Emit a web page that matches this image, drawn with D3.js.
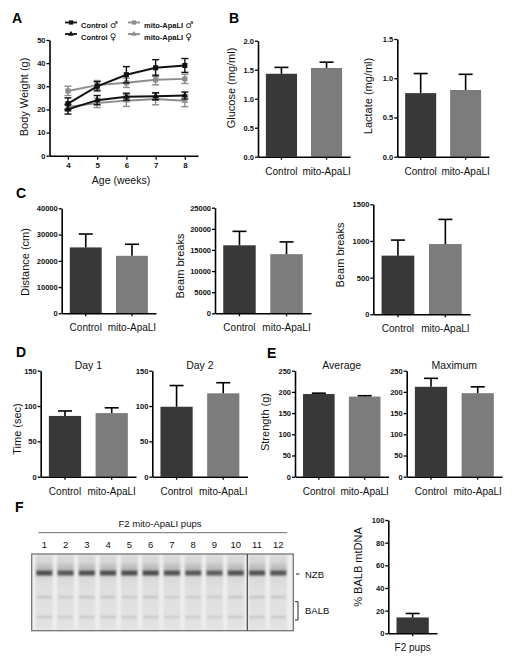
<!DOCTYPE html>
<html><head><meta charset="utf-8">
<script src="https://cdn.jsdelivr.net/npm/d3@7"></script>
<style>body{margin:0;background:#fff}svg{display:block}text{font-family:"Liberation Sans",Arial,sans-serif}</style>
</head><body><svg id="c" width="515" height="662"></svg>
<script>
// ---------- DATA ----------
const weeks = [4, 5, 6, 7, 8];
const weightTicks = [0, 10, 20, 30, 40, 50];
const ctrlMale = [22.5, 30, 35, 38, 39];
const ctrlMaleErr = [2.5, 2, 3.5, 3.5, 3];
const mitoMale = [28, 30.5, 31.5, 32.8, 33.2];
const mitoMaleErr = [2, 2, 2, 2.2, 2];
const ctrlFemale = [20, 24, 25.5, 25.7, 26];
const ctrlFemaleErr = [2, 2, 1.5, 1.5, 1.5];
const mitoFemale = [21, 22.8, 23.8, 24.5, 23.7];
const mitoFemaleErr = [1.5, 2, 2.5, 2.5, 2.5];
const legendLabels = ["Control", "mito-ApaLI", "Control", "mito-ApaLI"];
const legendSymbols = ["♂", "♂", "♀", "♀"];

const groups = ["Control", "mito-ApaLI"];
const glucose = [1.43, 1.53], glucoseErr = [0.11, 0.10];
const glucoseTicks = [0, 0.5, 1.0, 1.5, 2.0];
const lactate = [0.81, 0.85], lactateErr = [0.25, 0.20];
const lactateTicks = [0, 0.5, 1.0, 1.5];
const distance = [25100, 21900], distanceErr = [5100, 4400];
const distanceTicks = [0, 10000, 20000, 30000, 40000];
const beamA = [16100, 14000], beamAErr = [3300, 2900];
const beamATicks = [0, 5000, 10000, 15000, 20000, 25000];
const beamB = [800, 958], beamBErr = [212, 336];
const beamBTicks = [0, 500, 1000, 1500];
const day1 = [86, 90], day1Err = [7, 7.5];
const day2 = [99, 118], day2Err = [30, 15];
const timeTicks = [0, 50, 100, 150];
const avgStrength = [195, 189], avgStrengthErr = [2, 2];
const maxStrength = [212, 197], maxStrengthErr = [20, 15];
const strengthTicks = [0, 50, 100, 150, 200, 250];
const pupGroup = ["F2 pups"];
const balb = [14], balbErr = [3.5];
const balbTicks = [0, 20, 40, 60, 80, 100];
const lanes = ["1","2","3","4","5","6","7","8","9","10","11","12"];
const nzbIntensity = [0.8, 0.75, 0.8, 0.8, 0.8, 0.82, 0.78, 0.75, 0.72, 0.78, 0.78, 0.76];
const balbIntensity = [0.35, 0.3, 0.35, 0.35, 0.32, 0.35, 0.28, 0.3, 0.25, 0.35, 0.35, 0.33];

// ---------- DRAWING ----------
const svg = d3.select("#c");
const DARK = "#383838", GRAY = "#7c7c7c", LBLACK = "#111", LGRAY = "#8c8c8c";

function styleAxis(g, tickFont, tickBold) {
  g.select(".domain").attr("stroke", "#000").attr("stroke-width", 1.6);
  g.selectAll(".tick line").attr("stroke", "#000").attr("stroke-width", 1.3);
  g.selectAll(".tick text").attr("fill", "#111")
    .style("font-family", '"Liberation Sans", Arial, sans-serif')
    .style("font-size", tickFont + "px").style("font-weight", tickBold ? "bold" : "normal");
}

function letter(t, x, y) {
  svg.append("text").attr("x", x).attr("y", y).text(t)
    .style("font-size", "14px").style("font-weight", "bold").attr("fill", "#000");
}
function yLabel(t, x, y) {
  svg.append("text").attr("transform", `translate(${x},${y}) rotate(-90)`)
    .attr("text-anchor", "middle").attr("dy", "0.35em").text(t)
    .style("font-size", "11px").attr("fill", "#111");
}
function title(t, x, y) {
  svg.append("text").attr("x", x).attr("y", y).attr("text-anchor", "middle")
    .attr("dy", "0.35em").text(t).style("font-size", "10.5px").attr("fill", "#111");
}

function barChart(o) {
  const g = svg.append("g");
  const y = d3.scaleLinear().domain([0, o.max]).range([o.y0, o.yTop]);
  const x = d3.scaleBand().domain(o.cats).range([o.axisX, o.axisEnd])
    .paddingInner(0.31).paddingOuter(0.175);
  const colors = o.colors || [DARK, GRAY];
  const data = o.cats.map((c, i) => ({ c, v: o.values[i], e: o.errs[i], col: colors[i] }));
  g.selectAll("rect.bar").data(data).join("rect").attr("class", "bar")
    .attr("x", d => x(d.c)).attr("width", x.bandwidth())
    .attr("y", d => y(d.v)).attr("height", d => o.y0 - y(d.v)).attr("fill", d => d.col);
  const eb = g.selectAll("g.eb").data(data).join("g").attr("class", "eb");
  eb.append("line").attr("x1", d => x(d.c) + x.bandwidth() / 2).attr("x2", d => x(d.c) + x.bandwidth() / 2)
    .attr("y1", d => y(d.v)).attr("y2", d => y(d.v + d.e)).attr("stroke", "#000").attr("stroke-width", 1.6);
  eb.append("line").attr("x1", d => x(d.c) + x.bandwidth() / 2 - 7).attr("x2", d => x(d.c) + x.bandwidth() / 2 + 7)
    .attr("y1", d => y(d.v + d.e)).attr("y2", d => y(d.v + d.e)).attr("stroke", "#000").attr("stroke-width", 1.6);
  const ya = g.append("g").attr("transform", `translate(${o.axisX},0)`)
    .call(d3.axisLeft(y).tickValues(o.ticks).tickSize(3).tickPadding(1).tickSizeOuter(0)
      .tickFormat(o.fmt || d3.format("d")));
  styleAxis(ya, 7.5, true);
  const xa = g.append("g").attr("transform", `translate(0,${o.y0})`)
    .call(d3.axisBottom(x).tickSize(3).tickPadding(o.catPad || 8).tickSizeOuter(0));
  styleAxis(xa, 10, false);
  if (o.ylabel) yLabel(o.ylabel, o.labelX, o.labelY);
  if (o.title) title(o.title, (o.axisX + o.axisEnd) / 2, o.titleY);
}

// ----- Panel A: line chart -----
letter("A", 12, 23);
(function () {
  const g = svg.append("g");
  const x = d3.scaleLinear().domain([3.37, 8.45]).range([49.5, 198]);
  const y = d3.scaleLinear().domain([0, 50]).range([155.7, 40]);
  const series = [
    { v: mitoFemale, e: mitoFemaleErr, col: LGRAY, m: "tri" },
    { v: mitoMale, e: mitoMaleErr, col: LGRAY, m: "sq" },
    { v: ctrlFemale, e: ctrlFemaleErr, col: LBLACK, m: "tri" },
    { v: ctrlMale, e: ctrlMaleErr, col: LBLACK, m: "sq" }
  ];
  const line = d3.line().x((d, i) => x(weeks[i])).y(d => y(d));
  series.forEach(s => {
    g.append("path").datum(s.v).attr("d", line).attr("fill", "none")
      .attr("stroke", s.col).attr("stroke-width", 2);
    s.v.forEach((v, i) => {
      const cx = x(weeks[i]);
      g.append("line").attr("x1", cx).attr("x2", cx).attr("y1", y(v - s.e[i])).attr("y2", y(v + s.e[i]))
        .attr("stroke", s.col).attr("stroke-width", 1.4);
      [v - s.e[i], v + s.e[i]].forEach(t => g.append("line").attr("x1", cx - 3.5).attr("x2", cx + 3.5)
        .attr("y1", y(t)).attr("y2", y(t)).attr("stroke", s.col).attr("stroke-width", 1.4));
      g.append("path").attr("transform", `translate(${cx},${y(v)})`)
        .attr("d", d3.symbol().type(s.m === "sq" ? d3.symbolSquare : d3.symbolTriangle).size(s.m === "sq" ? 26 : 20)())
        .attr("fill", s.col);
    });
  });
  const ya = g.append("g").attr("transform", "translate(49.5,0)")
    .call(d3.axisLeft(y).tickValues(weightTicks).tickSize(3).tickPadding(1).tickSizeOuter(0));
  styleAxis(ya, 7.5, true);
  const xa = g.append("g").attr("transform", "translate(0,155.7)")
    .call(d3.axisBottom(x).tickValues(weeks).tickFormat(d3.format("d")).tickSize(4).tickPadding(3).tickSizeOuter(0));
  styleAxis(xa, 8, true);
  yLabel("Body Weight (g)", 24, 97);
  title("Age (weeks)", 121, 180);
  // legend
  const leg = [
    { col: LBLACK, m: "sq", x: 65, y: 22.5 }, { col: LGRAY, m: "sq", x: 128, y: 22.5 },
    { col: LBLACK, m: "tri", x: 65, y: 34 }, { col: LGRAY, m: "tri", x: 128, y: 34 }
  ];
  leg.forEach((l, i) => {
    g.append("line").attr("x1", l.x).attr("x2", l.x + 12).attr("y1", l.y).attr("y2", l.y)
      .attr("stroke", l.col).attr("stroke-width", 1.8);
    g.append("path").attr("transform", `translate(${l.x + 6},${l.y})`)
      .attr("d", d3.symbol().type(l.m === "sq" ? d3.symbolSquare : d3.symbolTriangle).size(l.m === "sq" ? 18 : 14)())
      .attr("fill", l.col);
    const t = g.append("text").attr("x", l.x + 16).attr("y", l.y).attr("dy", "0.35em").attr("fill", "#111");
    t.append("tspan").text(legendLabels[i] + " ").style("font-size", "7.5px").style("font-weight", "bold");
    t.append("tspan").text(legendSymbols[i]).style("font-size", "9px")
      .style("font-family", '"DejaVu Sans", sans-serif');
  });
})();

// ----- Panel B -----
letter("B", 229, 23);
barChart({ axisX: 258, axisEnd: 350, y0: 156.7, yTop: 40.7, max: 2.0, ticks: glucoseTicks,
  fmt: d3.format(".1f"), cats: groups, values: glucose, errs: glucoseErr,
  ylabel: "Glucose (mg/ml)", labelX: 231, labelY: 88 });
barChart({ axisX: 397.3, axisEnd: 489, y0: 156.7, yTop: 39, max: 1.5, ticks: lactateTicks,
  fmt: d3.format(".1f"), cats: groups, values: lactate, errs: lactateErr,
  ylabel: "Lactate (mg/ml)", labelX: 368, labelY: 96 });

// ----- Panel C -----
letter("C", 16, 198);
barChart({ axisX: 61.7, axisEnd: 156, y0: 313.3, yTop: 208.3, max: 40000, ticks: distanceTicks,
  cats: groups, values: distance, errs: distanceErr, ylabel: "Distance (cm)", labelX: 25, labelY: 262 });
barChart({ axisX: 215, axisEnd: 311, y0: 313.3, yTop: 207.7, max: 25000, ticks: beamATicks,
  cats: groups, values: beamA, errs: beamAErr, ylabel: "Beam breaks", labelX: 180, labelY: 266 });
barChart({ axisX: 373.3, axisEnd: 470, y0: 314.3, yTop: 204.3, max: 1500, ticks: beamBTicks,
  cats: groups, values: beamB, errs: beamBErr, ylabel: "Beam breaks", labelX: 340, labelY: 255 });

// ----- Panel D -----
letter("D", 16, 357);
barChart({ axisX: 40.7, axisEnd: 136, y0: 476.7, yTop: 370.7, max: 150, ticks: timeTicks,
  cats: groups, values: day1, errs: day1Err, ylabel: "Time (sec)", labelX: 16.7, labelY: 429,
  title: "Day 1", titleY: 365 });
barChart({ axisX: 152.3, axisEnd: 247.5, y0: 476.7, yTop: 370.7, max: 150, ticks: timeTicks,
  cats: groups, values: day2, errs: day2Err, title: "Day 2", titleY: 365 });

// ----- Panel E -----
letter("E", 267, 358);
barChart({ axisX: 295, axisEnd: 388.5, y0: 476.7, yTop: 370.7, max: 250, ticks: strengthTicks,
  cats: groups, values: avgStrength, errs: avgStrengthErr, ylabel: "Strength (g)", labelX: 265, labelY: 422,
  title: "Average", titleY: 365 });
barChart({ axisX: 406.7, axisEnd: 502, y0: 476.7, yTop: 370.7, max: 250, ticks: strengthTicks,
  cats: groups, values: maxStrength, errs: maxStrengthErr, title: "Maximum", titleY: 365 });

// ----- Panel F -----
letter("F", 15, 512);
barChart({ axisX: 388.3, axisEnd: 437, y0: 633.3, yTop: 520, max: 100, ticks: balbTicks,
  cats: pupGroup, values: balb, errs: balbErr, colors: [DARK], ylabel: "% BALB mtDNA", labelX: 358, labelY: 567 });

// gel
(function () {
  const defs = svg.append("defs");
  const gr = defs.append("linearGradient").attr("id", "lane").attr("x1", 0).attr("x2", 0).attr("y1", 0).attr("y2", 1);
  gr.append("stop").attr("offset", "0%").attr("stop-color", "#d9d9d9");
  gr.append("stop").attr("offset", "20%").attr("stop-color", "#d4d4d4");
  gr.append("stop").attr("offset", "45%").attr("stop-color", "#e0e0e0");
  gr.append("stop").attr("offset", "100%").attr("stop-color", "#e2e2e2");
  defs.append("filter").attr("id", "blur").attr("x", "-20%").attr("y", "-100%").attr("width", "140%").attr("height", "300%")
    .append("feGaussianBlur").attr("stdDeviation", 0.9);
  defs.append("filter").attr("id", "blur2").attr("x", "-20%").attr("y", "-100%").attr("width", "140%").attr("height", "300%")
    .append("feGaussianBlur").attr("stdDeviation", 1.6);
  defs.append("filter").attr("id", "blur3").append("feGaussianBlur").attr("stdDeviation", 1.2);

  const g = svg.append("g");
  const lx = d3.scalePoint().domain(lanes).range([44.3, 278.3]);
  const gx0 = 31.7, gx1 = 293.3, gy0 = 554, gy1 = 630.7;
  g.append("rect").attr("x", gx0).attr("y", gy0).attr("width", gx1 - gx0).attr("height", gy1 - gy0).attr("fill", "#eeeeee");
  lanes.forEach((ln, i) => {
    const cx = lx(ln);
    g.append("rect").attr("x", cx - 8.5).attr("width", 17).attr("y", gy0 + 1).attr("height", gy1 - gy0 - 2)
      .attr("fill", "url(#lane)").attr("filter", "url(#blur3)");
    g.append("rect").attr("x", cx - 8).attr("width", 16).attr("y", 564).attr("height", 7)
      .attr("fill", "#a5a5a5").attr("opacity", 0.45).attr("filter", "url(#blur2)");
    g.append("rect").attr("x", cx - 8).attr("width", 16).attr("y", 570.5).attr("height", 5)
      .attr("fill", "#2a2a2a").attr("opacity", nzbIntensity[i]).attr("filter", "url(#blur)");
    [596, 616].forEach(by => g.append("rect").attr("x", cx - 7.5).attr("width", 15).attr("y", by).attr("height", 2.2)
      .attr("fill", "#8a8a8a").attr("opacity", balbIntensity[i]).attr("filter", "url(#blur)"));
    g.append("text").attr("x", cx).attr("y", 545).attr("dy", "0.35em").attr("text-anchor", "middle")
      .text(ln).style("font-size", "9.5px").attr("fill", "#111");
  });
  g.append("rect").attr("x", gx0).attr("y", gy0).attr("width", gx1 - gx0).attr("height", gy1 - gy0)
    .attr("fill", "none").attr("stroke", "#6a6a6a").attr("stroke-width", 1.2);
  g.append("line").attr("x1", 247.3).attr("x2", 247.3).attr("y1", gy0).attr("y2", gy1)
    .attr("stroke", "#444").attr("stroke-width", 1.2);
  g.append("text").attr("x", 160).attr("y", 523.5).attr("dy", "0.35em").attr("text-anchor", "middle")
    .text("F2 mito-ApaLI pups").style("font-size", "9.5px").attr("fill", "#111");
  g.append("line").attr("x1", 38.3).attr("x2", 287.3).attr("y1", 532.7).attr("y2", 532.7)
    .attr("stroke", "#8a8a8a").attr("stroke-width", 1.3);
  g.append("line").attr("x1", 296).attr("x2", 299.5).attr("y1", 574).attr("y2", 574).attr("stroke", "#222").attr("stroke-width", 1);
  g.append("text").attr("x", 305).attr("y", 574.5).attr("dy", "0.35em").text("NZB").style("font-size", "9.5px").attr("fill", "#111");
  g.append("path").attr("d", "M295,601.7H298V620H295").attr("fill", "none").attr("stroke", "#222").attr("stroke-width", 1);
  g.append("text").attr("x", 305).attr("y", 610.5).attr("dy", "0.35em").text("BALB").style("font-size", "9.5px").attr("fill", "#111");
})();
</script></body></html>
